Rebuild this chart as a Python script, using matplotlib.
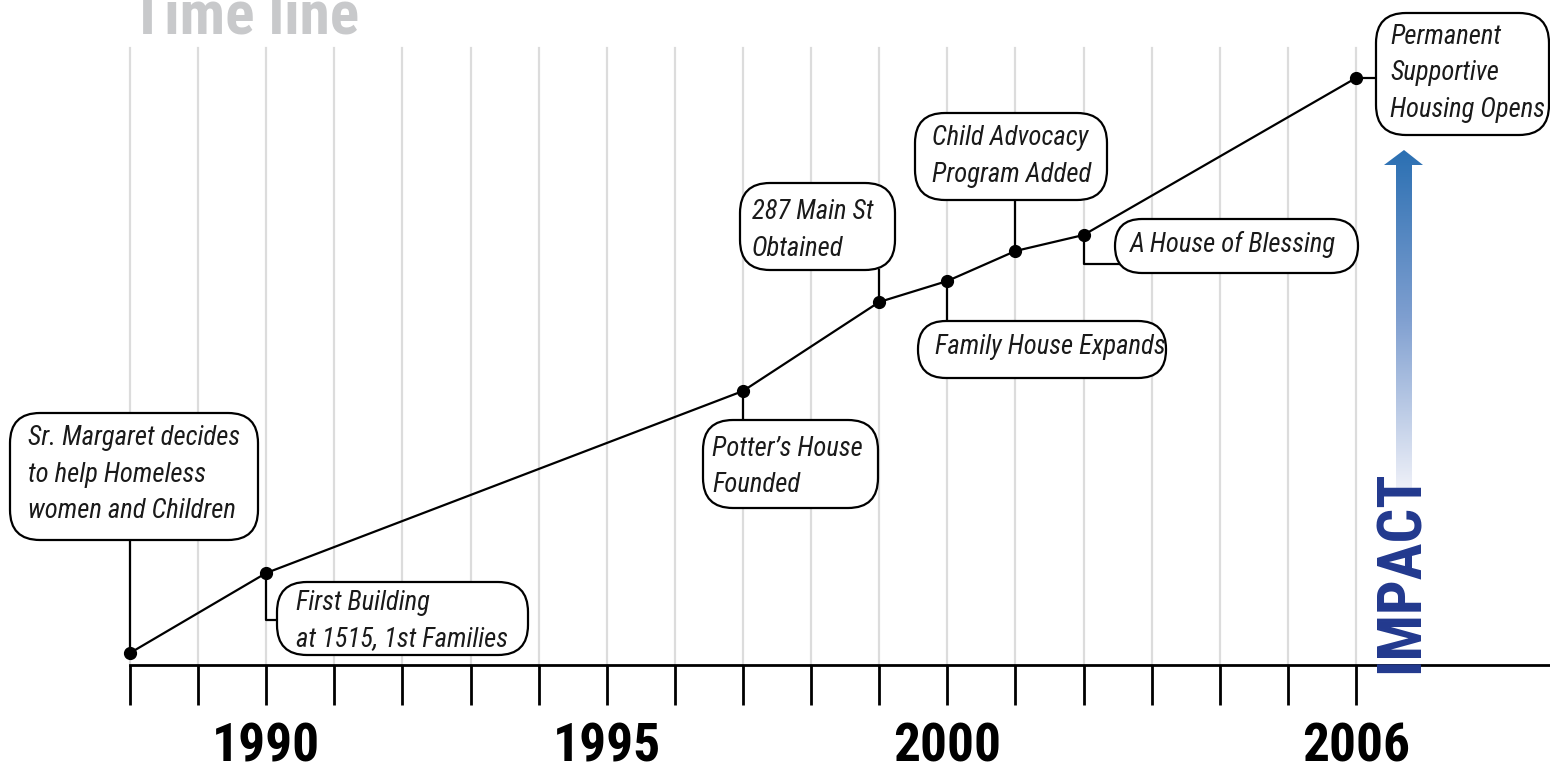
import matplotlib
matplotlib.use("Agg")
import matplotlib.pyplot as plt
import numpy as np
from matplotlib import font_manager
from matplotlib.patches import FancyBboxPatch, Polygon
from matplotlib.colors import LinearSegmentedColormap

# data: milestone years and relative "impact" height above the axis
years = [1988, 1990, 1997, 1999, 2000, 2001, 2002, 2006]
impact = [12, 92, 274, 363, 384, 414, 430, 587]
labels = [
    "Sr. Margaret decides\nto help Homeless\nwomen and Children",
    "First Building\nat 1515, 1st Families",
    "Potter\u2019s House\nFounded",
    "287 Main St\nObtained",
    "Family House Expands",
    "Child Advocacy\nProgram Added",
    "A House of Blessing",
    "Permanent\nSupportive\nHousing Opens",
]
all_years = list(range(1988, 2007))
year_labels = [1990, 1995, 2000, 2006]

# pick a narrow face if one is installed
fonts = font_manager.fontManager.ttflist
names = {f.name for f in fonts}
narrow, stretch = "DejaVu Sans", "normal"
for cand in ["Roboto Condensed", "Liberation Sans Narrow", "Open Sans Condensed",
             "Noto Sans Condensed", "DejaVu Sans Condensed"]:
    if cand in names:
        narrow = cand
        break
else:
    if any(f.name == "DejaVu Sans" and f.stretch == "condensed" for f in fonts):
        stretch = "condensed"

W, H = 1550, 767
fig = plt.figure(figsize=(W / 100, H / 100), dpi=100)
renderer = fig.canvas.get_renderer()
ax = fig.add_axes([0, 0, 1, 1])
px_per_year = (1356 - 130) / 18
ax.set_xlim(1988 - 130 / px_per_year, 2006 + (W - 1356) / px_per_year)
ax.set_ylim(665 - H, 665)
ax.axis("off")

# overlay in pixel units for callout boxes, arrow, titles
ov = fig.add_axes([0, 0, 1, 1], zorder=3)
ov.set_xlim(0, W)
ov.set_ylim(H, 0)
ov.axis("off")
ov.patch.set_alpha(0)


def to_px(x, y):
    d = ax.transData.transform((x, y))
    return ov.transData.inverted().transform(d)


def fit(t, target, vertical=False, max_fs=None):
    bb = t.get_window_extent(renderer)
    size = bb.height if vertical else bb.width
    fs = t.get_fontsize() * target / size
    if max_fs:
        fs = min(fs, max_fs)
    t.set_fontsize(fs)
    return fs


# gridlines and ticks
for yr in all_years:
    ax.plot([yr, yr], [0, 665 - 48], color="#dcdcdc", lw=1.6, zorder=0)
    ax.plot([yr, yr], [0, -40], color="black", lw=2, zorder=2, solid_capstyle="butt")
ax.plot([1988, ax.get_xlim()[1]], [0, 0], color="black", lw=2, zorder=2)
for yr in year_labels:
    t = ax.text(yr, -96, str(yr), ha="center", va="baseline", fontsize=40,
                fontweight="bold", family=narrow, fontstretch=stretch)
    fit(t, 108, max_fs=44)

# timeline
ax.plot(years, impact, color="black", lw=1.6, zorder=3)
ax.plot(years, impact, "o", color="black", ms=8.5, zorder=4)

# callout boxes: (x0, y0, x1, y1, radius, text_left, first_line_y)
boxes = [
    (10, 413, 258, 540, 30, 28, 438),
    (277, 582, 528, 655, 30, 296, 603),
    (703, 420, 878, 508, 30, 712, 449),
    (740, 183, 895, 270, 30, 752, 212),
    (918, 321, 1166, 378, 28, 935, 347),
    (915, 113, 1107, 200, 30, 932, 138),
    (1115, 219, 1358, 273, 27, 1130, 244),
    (1376, 13, 1549, 135, 30, 1390, 37),
]
probe = ov.text(0, 0, "Sr. Margaret decides", fontsize=18, style="italic",
                family=narrow, fontstretch=stretch)
box_fs = fit(probe, 212, max_fs=20)
probe.remove()

for i, (yr, val, lab) in enumerate(zip(years, impact, labels)):
    x0, y0, x1, y1, r, tx, ty = boxes[i]
    px, py = to_px(yr, val)
    if i == 1:
        ov.plot([px, px, x0 + 5], [py, 620, 620], color="black", lw=1.6, zorder=1)
    elif i == 6:
        ov.plot([px, px, x0 + 5], [py, 264, 264], color="black", lw=1.6, zorder=1)
    elif i == 7:
        ov.plot([px, x0], [py, py], color="black", lw=1.6, zorder=1)
    elif py > y1:
        ov.plot([px, px], [py, y1], color="black", lw=1.6, zorder=1)
    else:
        ov.plot([px, px], [py, y0], color="black", lw=1.6, zorder=1)
    box = FancyBboxPatch((x0, y0), x1 - x0, y1 - y0,
                         boxstyle=f"round,pad=0,rounding_size={r}",
                         fc="white", ec="black", lw=1.6, zorder=2)
    ov.add_patch(box)
    for k, line in enumerate(lab.split("\n")):
        ov.text(tx, ty + k * 36.5, line, ha="left", va="center", fontsize=box_fs,
                style="italic", family=narrow, fontstretch=stretch,
                color="#1a1a1a", zorder=3)

# gradient arrow
cmap = LinearSegmentedColormap.from_list("imp", ["#2a6fb2", "#7f9fd0", "#eef0f8"])
grad = np.linspace(0, 1, 256).reshape(-1, 1)
img = ov.imshow(grad, cmap=cmap, extent=[1380, 1424, 488, 148], aspect="auto", zorder=2)
arrow = Polygon([(1396, 488), (1396, 165), (1384, 165), (1404, 150),
                 (1423, 165), (1412, 165), (1412, 488)], closed=True,
                fc="none", ec="none")
ov.add_patch(arrow)
img.set_clip_path(arrow)
ov.set_xlim(0, W)
ov.set_ylim(H, 0)

t = ov.text(1402, 673, "IMPACT", rotation=90, ha="center", va="bottom", fontsize=40,
            fontweight="bold", family=narrow, fontstretch=stretch,
            color="#22398e", zorder=4)
fit(t, 202, vertical=True, max_fs=46)

# title (cut off at top)
t = ov.text(131, 33, "Time line", ha="left", va="baseline", fontsize=40,
            fontweight="bold", family=narrow, fontstretch=stretch,
            color="#c8c9cb", zorder=4)
fit(t, 228, max_fs=46)

fig.savefig("out.png", dpi=100)
